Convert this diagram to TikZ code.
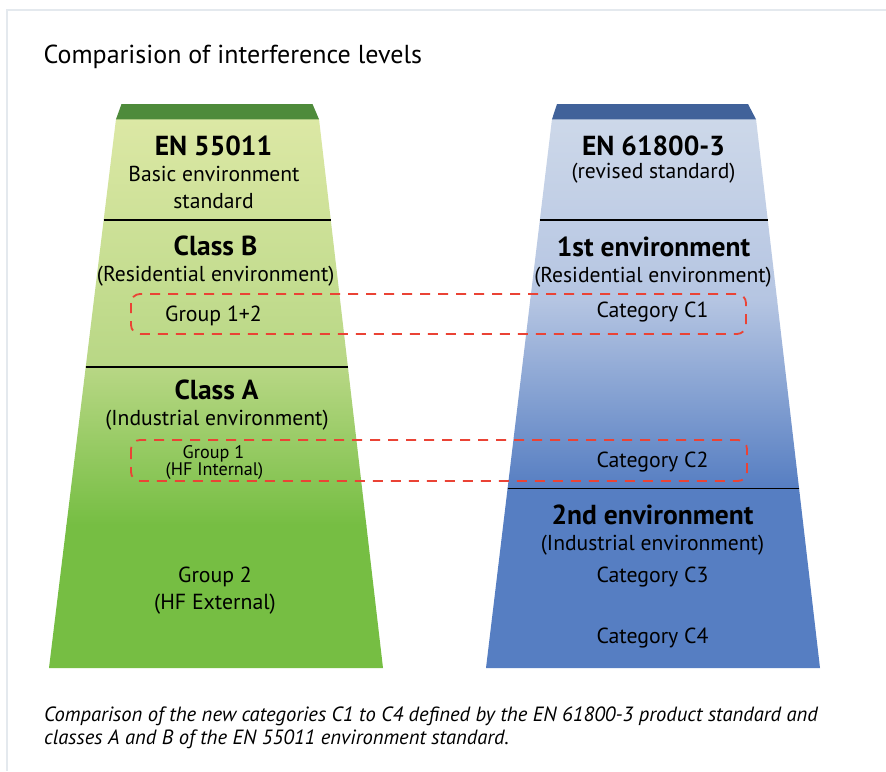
\documentclass[tikz,border=0pt]{standalone}
\usepackage{fontspec}
\setmainfont{PT Sans}
\definecolor{gcap}{HTML}{4E8B3B}
\definecolor{gtop}{HTML}{DCE8A5}
\definecolor{gmid}{HTML}{B8D785}
\definecolor{gbot}{HTML}{76BE43}
\definecolor{bcap}{HTML}{41629A}
\definecolor{btop}{HTML}{CDD8E9}
\definecolor{bmid}{HTML}{B5C5E2}
\definecolor{bbot}{HTML}{567EC2}
\definecolor{redd}{HTML}{EA4335}
\definecolor{framec}{HTML}{E4E9EE}
\begin{document}
\begin{tikzpicture}[x=1pt,y=-1pt,
  titletxt/.style={font=\fontsize{26}{30}\selectfont, inner sep=0pt},
  hdr/.style={font=\fontsize{27.5}{32}\selectfont\bfseries, inner sep=0pt},
  sub/.style={font=\fontsize{21.6}{25}\selectfont, inner sep=0pt},
  cat/.style={font=\fontsize{21.8}{25}\selectfont, inner sep=0pt},
  small/.style={font=\fontsize{18.2}{21}\selectfont, inner sep=0pt},
  captxt/.style={font=\fontsize{20.6}{24}\selectfont\itshape, inner sep=0pt},
  divider/.style={line width=1.4pt, black},
  redbox/.style={draw=redd, line width=1.8pt, dash pattern=on 10pt off 8pt, rounded corners=9pt}]

\useasboundingbox (0,0) rectangle (886,771);
\fill[white] (0,0) rectangle (886,771);
\draw[framec, line width=2pt] (6.5,771) -- (6.5,9.5) -- (886,9.5);

\node[titletxt, anchor=base west] (title) at (43.5,63) {Comparision of interference levels};

% left trapezoid
\begin{scope}
  \clip (116,119) -- (319,119) -- (383,668) -- (49,668) -- cycle;
  \shade[top color=gtop, bottom color=gmid] (40,118) rectangle (400,367);
  \shade[top color=gmid, bottom color=gbot] (40,366.5) rectangle (400,525);
  \fill[gbot] (40,524.5) rectangle (400,669);
\end{scope}
\fill[gcap] (121.5,104) -- (312.5,104) -- (319,119.3) -- (116,119.3) -- cycle;
\draw[divider] (103.7,220) -- (330.8,220);
\draw[divider] (85.7,367) -- (347.9,367);

% right trapezoid
\begin{scope}
  \clip (552,119) -- (756,119) -- (820,668) -- (486,668) -- cycle;
  \shade[top color=btop, bottom color=bmid] (480,118) rectangle (830,300);
  \shade[top color=bmid, bottom color=bbot] (480,299.5) rectangle (830,488);
  \fill[bbot] (480,487.5) rectangle (830,669);
\end{scope}
\fill[bcap] (557,104) -- (748,104) -- (756,119.3) -- (552,119.3) -- cycle;
\draw[divider] (539.9,220) -- (767.8,220);
\draw[divider] (507.6,488.5) -- (799,488.5);

% red dashed boxes
\draw[redbox] (131,294) rectangle (746,334);
\draw[redbox] (131,440) rectangle (747,481);

% left texts
\node[hdr, anchor=base] (en55) at (213.5,155) {EN 55011};
\node[sub, anchor=base] (basic) at (214,181) {Basic environment};
\node[sub, anchor=base] (stdd) at (213.5,208) {standard};
\node[hdr, anchor=base] (classB) at (215.5,255) {Class B};
\node[sub, anchor=base] (resL) at (215.7,281) {(Residential environment)};
\node[cat, anchor=base] (g12) at (213.5,321.5) {Group 1+2};
\node[hdr, anchor=base] (classA) at (216.5,399) {Class A};
\node[sub, anchor=base] (indL) at (217,425) {(Industrial environment)};
\node[small, anchor=base] (g1) at (213.5,458) {Group 1};
\node[small, anchor=base] (hfi) at (214.5,475) {(HF Internal)};
\node[cat, anchor=base] (g2) at (215,582.5) {Group 2};
\node[cat, anchor=base] (hfe) at (215,609) {(HF External)};

% right texts
\node[hdr, anchor=base] (en61) at (653.5,155) {EN 61800-3};
\node[sub, anchor=base] (rev) at (653.5,178) {(revised standard)};
\node[hdr, anchor=base] (env1) at (653.5,256.5) {1st environment};
\node[sub, anchor=base] (resR) at (653,282) {(Residential environment)};
\node[cat, anchor=base] (c1) at (652.5,317.5) {Category C1};
\node[cat, anchor=base] (c2) at (652.5,467) {Category C2};
\node[hdr, anchor=base] (env2) at (652.5,524.5) {2nd environment};
\node[sub, anchor=base] (indR) at (652.5,550.5) {(Industrial environment)};
\node[cat, anchor=base] (c3) at (652.5,582.5) {Category C3};
\node[cat, anchor=base] (c4) at (652.5,643) {Category C4};

% caption
\node[captxt, anchor=base west] (cap1) at (44,721) {Comparison of the new categories C1 to C4 defined by the EN 61800-3 product standard and};
\node[captxt, anchor=base west] (cap2) at (44,744.5) {classes A and B of the EN 55011 environment standard.};
\end{tikzpicture}
\end{document}
